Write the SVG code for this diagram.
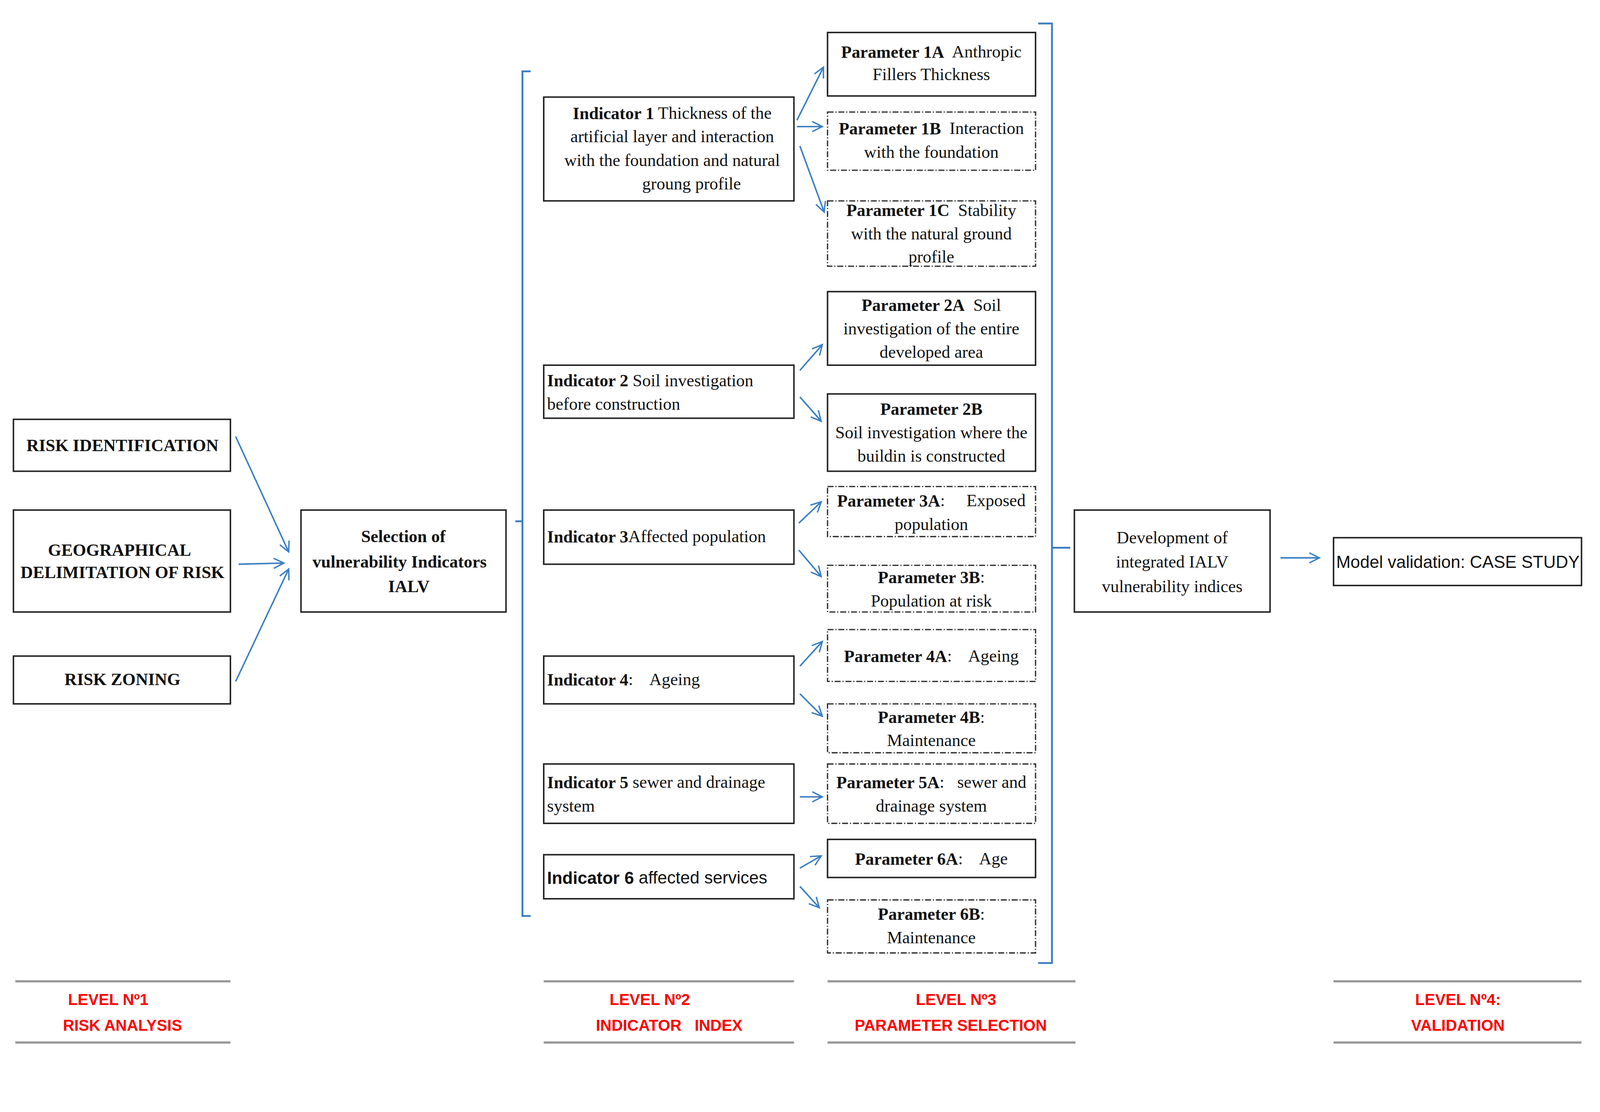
<svg xmlns="http://www.w3.org/2000/svg" width="4284" height="2847" viewBox="0 0 4284 2847">
<defs>
<marker id="ah" viewBox="0 0 20 20" refX="18" refY="10" markerWidth="30" markerHeight="30" markerUnits="userSpaceOnUse" orient="auto" overflow="visible">
<path d="M0,1 L18,10 L0,19" fill="none" stroke="#3b7fc4" stroke-width="2.5"/>
</marker>
<style>
.b{fill:#fff;stroke:#222;stroke-width:4}
.d{fill:#fff;stroke:#333;stroke-width:3.5;stroke-dasharray:16 5 3 5}
text{font-family:"Liberation Serif","Times New Roman",serif;font-size:46px;fill:#111;dominant-baseline:central}
.c{text-anchor:middle}
.bo{font-weight:bold}
.s{font-family:"Liberation Sans",Arial,sans-serif}
.a{fill:none;stroke:#3b7fc4;stroke-width:4;marker-end:url(#ah)}
.br{fill:none;stroke:#3b7fc4;stroke-width:5}
.lv{font-family:"Liberation Sans",Arial,sans-serif;fill:#ff0000;font-weight:bold;font-size:42px;text-anchor:middle}
.ln{stroke:#999;stroke-width:6}
</style>
</defs>
<rect width="4284" height="2847" fill="#fff"/>
<g transform="scale(0.956)">
<g id="risk-id"><rect class="b" x="36" y="1123" width="581" height="139"/><text class="c bo" x="328" y="1193">RISK IDENTIFICATION</text></g>
<g id="geo"><rect class="b" x="36" y="1366" width="581" height="273"/><text class="c bo" x="320" y="1473">GEOGRAPHICAL</text><text class="c bo" x="328" y="1533">DELIMITATION OF RISK</text></g>
<g id="zoning"><rect class="b" x="36" y="1757" width="581" height="128"/><text class="c bo" x="328" y="1820">RISK ZONING</text></g>
<g id="selection"><rect class="b" x="806" y="1366" width="549" height="273"/><text class="c bo" x="1080" y="1437" font-size="51">Selection of</text><text class="c bo" x="1070" y="1505" font-size="51">vulnerability Indicators</text><text class="c bo" x="1095" y="1571" font-size="51">IALV</text></g>

<g id="ind1"><rect class="b" x="1456" y="260" width="670" height="278"/>
<text class="c" x="1800" y="303"><tspan class="bo">Indicator 1</tspan> Thickness of the</text>
<text class="c" x="1800" y="366">artificial layer and interaction</text>
<text class="c" x="1800" y="429">with the foundation and natural</text>
<text class="c" x="1852" y="492">groung profile</text></g>
<g id="ind2"><rect class="b" x="1456" y="978" width="670" height="142"/>
<text x="1465" y="1019"><tspan class="bo">Indicator 2</tspan> Soil investigation</text>
<text x="1465" y="1082">before construction</text></g>
<g id="ind3"><rect class="b" x="1456" y="1366" width="670" height="145"/>
<text x="1465" y="1437"><tspan class="bo">Indicator 3</tspan>Affected population</text></g>
<g id="ind4"><rect class="b" x="1456" y="1757" width="670" height="128"/>
<text x="1465" y="1820" xml:space="preserve"><tspan class="bo">Indicator 4</tspan>:    Ageing</text></g>
<g id="ind5"><rect class="b" x="1456" y="2046" width="670" height="159"/>
<text x="1465" y="2095"><tspan class="bo">Indicator 5</tspan> sewer and drainage</text>
<text x="1465" y="2158">system</text></g>
<g id="ind6"><rect class="b" x="1456" y="2289" width="670" height="118"/>
<text class="s" x="1465" y="2350" font-size="37"><tspan class="bo">Indicator 6</tspan> affected services</text></g>

<g id="p1a"><rect class="b" x="2216" y="87" width="557" height="170"/><text class="c" x="2494" y="139" xml:space="preserve"><tspan class="bo">Parameter 1A</tspan>  Anthropic</text><text class="c" x="2494" y="199">Fillers Thickness</text></g>
<g id="p1b"><rect class="d" x="2216" y="300" width="557" height="156"/><text class="c" x="2494" y="344" xml:space="preserve"><tspan class="bo">Parameter 1B</tspan>  Interaction</text><text class="c" x="2494" y="407">with the foundation</text></g>
<g id="p1c"><rect class="d" x="2216" y="538" width="557" height="175"/><text class="c" x="2494" y="563" xml:space="preserve"><tspan class="bo">Parameter 1C</tspan>  Stability</text><text class="c" x="2494" y="626">with the natural ground</text><text class="c" x="2494" y="688">profile</text></g>
<g id="p2a"><rect class="b" x="2216" y="781" width="557" height="197"/><text class="c" x="2494" y="817" xml:space="preserve"><tspan class="bo">Parameter 2A</tspan>  Soil</text><text class="c" x="2494" y="880">investigation of the entire</text><text class="c" x="2494" y="943">developed area</text></g>
<g id="p2b"><rect class="b" x="2216" y="1055" width="557" height="207"/><text class="c bo" x="2494" y="1096">Parameter 2B</text><text class="c" x="2494" y="1158">Soil investigation where the</text><text class="c" x="2494" y="1221">buildin is constructed</text></g>
<g id="p3a"><rect class="d" x="2216" y="1303" width="557" height="134"/><text class="c" x="2494" y="1341" xml:space="preserve"><tspan class="bo">Parameter 3A</tspan>:     Exposed</text><text class="c" x="2494" y="1404">population</text></g>
<g id="p3b"><rect class="d" x="2216" y="1514" width="557" height="125"/><text class="c" x="2494" y="1546"><tspan class="bo">Parameter 3B</tspan>:</text><text class="c" x="2494" y="1609">Population at risk</text></g>
<g id="p4a"><rect class="d" x="2216" y="1686" width="557" height="139"/><text class="c" x="2494" y="1757" xml:space="preserve"><tspan class="bo">Parameter 4A</tspan>:    Ageing</text></g>
<g id="p4b"><rect class="d" x="2216" y="1885" width="557" height="131"/><text class="c" x="2494" y="1921"><tspan class="bo">Parameter 4B</tspan>:</text><text class="c" x="2494" y="1983">Maintenance</text></g>
<g id="p5a"><rect class="d" x="2216" y="2046" width="557" height="159"/><text class="c" x="2494" y="2095" xml:space="preserve"><tspan class="bo">Parameter 5A</tspan>:   sewer and</text><text class="c" x="2494" y="2158">drainage system</text></g>
<g id="p6a"><rect class="b" x="2216" y="2248" width="557" height="102"/><text class="c" x="2494" y="2300" xml:space="preserve"><tspan class="bo">Parameter 6A</tspan>:    Age</text></g>
<g id="p6b"><rect class="d" x="2216" y="2410" width="557" height="142"/><text class="c" x="2494" y="2448"><tspan class="bo">Parameter 6B</tspan>:</text><text class="c" x="2494" y="2511">Maintenance</text></g>

<g id="development"><rect class="b" x="2877" y="1366" width="524" height="273"/><text class="c" x="3139" y="1440">Development of</text><text class="c" x="3139" y="1505">integrated IALV</text><text class="c" x="3139" y="1571">vulnerability indices</text></g>
<g id="validation"><rect class="b" x="3571" y="1440" width="664" height="128"/><text class="c s" x="3904" y="1505" font-size="39">Model validation: CASE STUDY</text></g>

<g id="connectors">
<path class="br" d="M1421,191 H1399 V2453 H1421 M1399,1396 H1380"/>
<path class="br" d="M2780,63 H2817 V2579 H2780 M2817,1467 H2866"/>
<line class="a" x1="631" y1="1169" x2="773" y2="1478"/>
<line class="a" x1="639" y1="1511" x2="760" y2="1508"/>
<line class="a" x1="631" y1="1825" x2="773" y2="1524"/>
<line class="a" x1="2134" y1="322" x2="2205" y2="180"/>
<line class="a" x1="2134" y1="339" x2="2202" y2="339"/>
<line class="a" x1="2142" y1="391" x2="2207" y2="568"/>
<line class="a" x1="2142" y1="992" x2="2202" y2="923"/>
<line class="a" x1="2142" y1="1063" x2="2199" y2="1128"/>
<line class="a" x1="2139" y1="1401" x2="2199" y2="1344"/>
<line class="a" x1="2139" y1="1473" x2="2199" y2="1544"/>
<line class="a" x1="2142" y1="1784" x2="2202" y2="1718"/>
<line class="a" x1="2142" y1="1858" x2="2202" y2="1918"/>
<line class="a" x1="2142" y1="2134" x2="2202" y2="2134"/>
<line class="a" x1="2142" y1="2325" x2="2199" y2="2292"/>
<line class="a" x1="2142" y1="2374" x2="2194" y2="2431"/>
<line class="a" x1="3429" y1="1494" x2="3533" y2="1494"/>
</g>

<g id="levels">
<line class="ln" x1="41" y1="2628" x2="617" y2="2628"/><line class="ln" x1="41" y1="2792" x2="617" y2="2792"/>
<line class="ln" x1="1456" y1="2628" x2="2126" y2="2628"/><line class="ln" x1="1456" y1="2792" x2="2126" y2="2792"/>
<line class="ln" x1="2216" y1="2628" x2="2880" y2="2628"/><line class="ln" x1="2216" y1="2792" x2="2880" y2="2792"/>
<line class="ln" x1="3571" y1="2628" x2="4235" y2="2628"/><line class="ln" x1="3571" y1="2792" x2="4235" y2="2792"/>
<text class="lv" x="290" y="2677">LEVEL Nº1</text><text class="lv" x="328" y="2746">RISK ANALYSIS</text>
<text class="lv" x="1740" y="2677">LEVEL Nº2</text><text class="lv" x="1792" y="2746" xml:space="preserve">INDICATOR   INDEX</text>
<text class="lv" x="2560" y="2677">LEVEL Nº3</text><text class="lv" x="2546" y="2746">PARAMETER SELECTION</text>
<text class="lv" x="3904" y="2677">LEVEL Nº4:</text><text class="lv" x="3904" y="2746">VALIDATION</text>
</g>
</g>
</svg>
